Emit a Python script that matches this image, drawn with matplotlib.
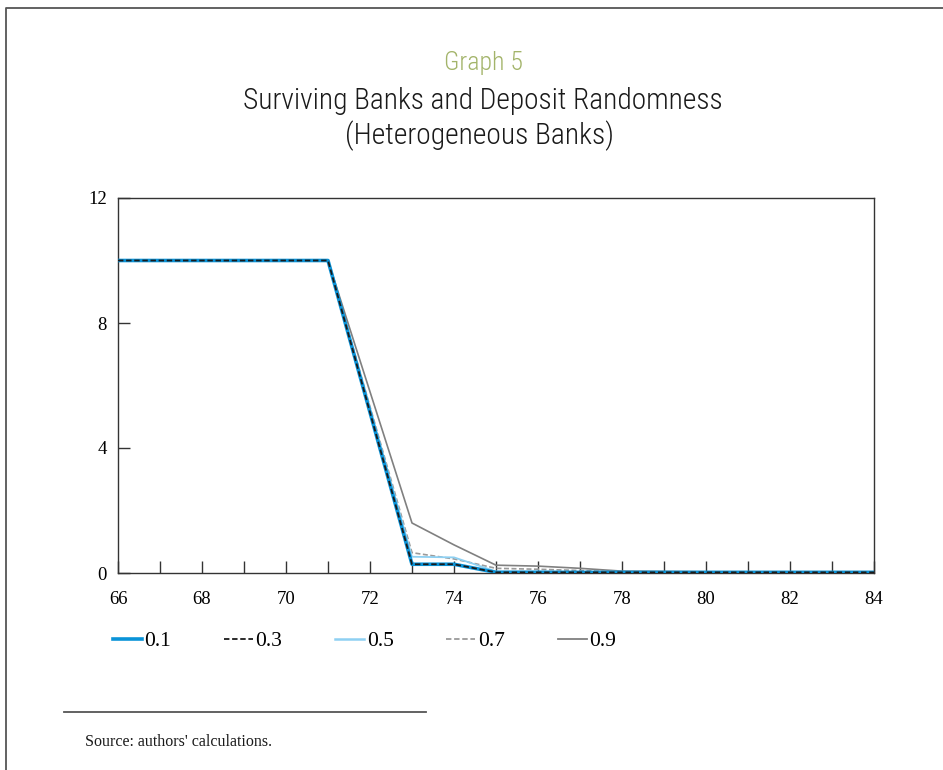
import matplotlib
matplotlib.use("Agg")
import matplotlib.pyplot as plt
from matplotlib.lines import Line2D
from matplotlib import font_manager as fm

# ---- data ----
years = [66, 71, 73, 74, 75, 76, 77, 78, 80, 84]
s01 = [10, 10, 0.28, 0.28, 0.02, 0.02, 0.02, 0.02, 0.02, 0.02]
s03 = [10, 10, 0.28, 0.28, 0.02, 0.02, 0.02, 0.02, 0.02, 0.02]
s05 = [10, 10, 0.52, 0.50, 0.05, 0.05, 0.03, 0.02, 0.02, 0.02]
s07 = [10, 10, 0.65, 0.45, 0.15, 0.12, 0.08, 0.04, 0.03, 0.03]
s09 = [10, 10, 1.60, 0.90, 0.25, 0.22, 0.15, 0.06, 0.04, 0.04]
series_labels = ["0.1", "0.3", "0.5", "0.7", "0.9"]
xticks_major = [66, 68, 70, 72, 74, 76, 78, 80, 82, 84]
yticks = [0, 4, 8, 12]

serif = ["Liberation Serif", "DejaVu Serif"]

# pick a light / condensed sans for the titles, if installed
fonts = fm.fontManager.ttflist
def has(name, stretch=None, maxw=None):
    for f in fonts:
        if f.name == name and (stretch is None or f.stretch == stretch):
            w = f.weight if isinstance(f.weight, int) else 400
            if maxw is None or w <= maxw:
                return True
    return False

title_kw = dict(family=["Open Sans", "DejaVu Sans"])
if has("Roboto Condensed", maxw=300):
    title_kw = dict(family=["Roboto Condensed"], weight="light")
elif has("DejaVu Sans", stretch="condensed", maxw=300):
    title_kw = dict(family=["DejaVu Sans"], stretch="condensed", weight="light")
elif has("Roboto", maxw=300):
    title_kw = dict(family=["Roboto"], weight="light")
elif has("Open Sans", maxw=300):
    title_kw = dict(family=["Open Sans"], weight="light")
elif has("Lato", maxw=300):
    title_kw = dict(family=["Lato"], weight="light")

fig = plt.figure(figsize=(9.43, 7.70), dpi=100)
ax = fig.add_axes([118/943, 1-573/770, (874-118)/943, (573-198)/770])

ax.plot(years, s09, color="#808080", lw=1.2, zorder=2)
ax.plot(years, s07, color="#9a9a9a", lw=1.2, ls=(0, (3, 1.5)), zorder=3)
ax.plot(years, s05, color="#8ed0f2", lw=1.3, zorder=4)
ax.plot(years, s01, color="#0a93d8", lw=2.6, zorder=5)
ax.plot(years, s03, color="#1a1a1a", lw=1.3, ls=(0, (3, 1.5)), zorder=6)

ax.set_xlim(66, 84)
ax.set_ylim(0, 12)
ax.set_xticks(xticks_major)
ax.set_xticks(range(66, 85), minor=True)
ax.set_yticks(yticks)
ax.tick_params(axis="both", which="both", direction="in", length=8.5, width=1,
               color="#333333", labelsize=13.5)
ax.tick_params(axis="x", pad=13)
ax.tick_params(axis="y", pad=8)
ax.tick_params(axis="x", which="minor", labelbottom=False)
for lab in ax.get_xticklabels() + ax.get_yticklabels():
    lab.set_fontfamily(serif)
for sp in ax.spines.values():
    sp.set_color("#333333")
    sp.set_linewidth(1)

# legend
handles = [
    Line2D([], [], color="#0a93d8", lw=2.6),
    Line2D([], [], color="#1a1a1a", lw=1.3, ls=(0, (3, 1.5))),
    Line2D([], [], color="#8ed0f2", lw=1.8),
    Line2D([], [], color="#9a9a9a", lw=1.3, ls=(0, (3, 1.5))),
    Line2D([], [], color="#808080", lw=1.3),
]
leg = fig.legend(handles, series_labels, ncol=5, loc="center left",
                 bbox_to_anchor=(104/943, 1-641/770), frameon=False,
                 prop={"family": serif, "size": 15.5}, handlelength=1.35,
                 handletextpad=0.12, columnspacing=2.45, borderaxespad=0)

# titles, sized to the reference widths
renderer = fig.canvas.get_renderer()
def fit_text(x, y, s, width_px, color, start=16):
    t = fig.text(x, y, s, ha="center", va="center", color=color,
                 fontsize=start, **title_kw)
    w = t.get_window_extent(renderer).width
    t.set_fontsize(start * width_px / w)
    return t

fit_text(483/943, 1-63/770, "Graph 5", 79, "#a3b46a", 15)
fit_text(483/943, 1-101/770, "Surviving Banks and Deposit Randomness", 481, "#1a1a1a", 18)
fit_text(480/943, 1-136/770, "(Heterogeneous Banks)", 270, "#1a1a1a", 18)

# source
fig.add_artist(Line2D([64/943, 426/943], [1-712/770, 1-712/770],
                      color="#555555", lw=1.3, transform=fig.transFigure))
fig.text(85/943, 1-742/770, "Source: authors' calculations.", ha="left",
         va="center", fontsize=11.5, family=serif, color="#1a1a1a")

# page border
fig.add_artist(Line2D([6/943, 6/943, 943/943], [0, 1-8/770, 1-8/770],
                      color="#555555", lw=1.3, transform=fig.transFigure))

fig.savefig("out.png", dpi=100)
